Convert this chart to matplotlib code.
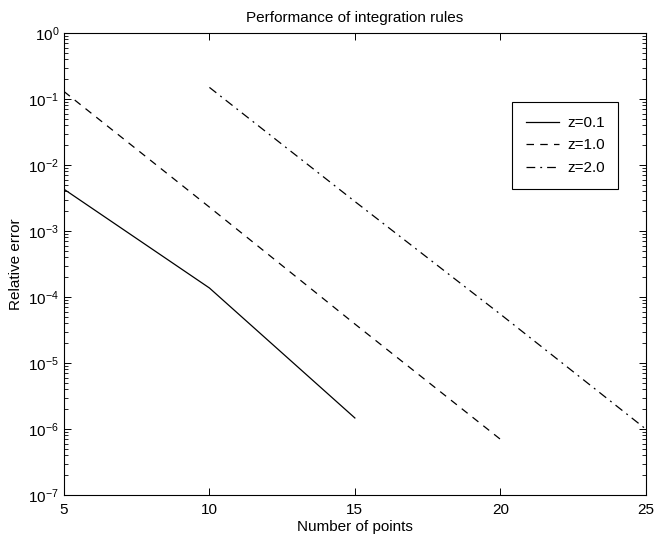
import numpy as np
import matplotlib
matplotlib.use('Agg')
import matplotlib.pyplot as plt
from matplotlib.ticker import LogLocator, NullLocator, FixedLocator

plt.rcParams['font.family'] = ['Liberation Sans', 'DejaVu Sans']
plt.rcParams['mathtext.fontset'] = 'custom'
plt.rcParams['mathtext.rm'] = 'Liberation Sans'
plt.rcParams['mathtext.it'] = 'Liberation Sans'

#=============================================================================#
# Relative error of the integration rules vs number of points
#=============================================================================#
n_01 = [5, 10, 15]
err_01 = [4.3e-3, 1.37e-4, 1.47e-6]

n_10 = [5, 10, 15, 20]
err_10 = [1.3e-1, 2.3e-3, 3.9e-5, 7.0e-7]

n_20 = [10, 15, 20, 25]
err_20 = [1.5e-1, 2.8e-3, 5.5e-5, 1.0e-6]

labels = ['z=0.1', 'z=1.0', 'z=2.0']
xticks = [5, 10, 15, 20, 25]

#=============================================================================#
fig = plt.figure(figsize=(6.63, 5.37), dpi=100)
ax = fig.add_axes([0.0965, 0.0782, 0.8775, 0.8603])

ax.semilogy(n_01, err_01, 'k-', lw=0.9, label=labels[0])
ax.semilogy(n_10, err_10, 'k--', lw=0.9, dashes=(6, 5), label=labels[1])
ax.semilogy(n_20, err_20, 'k-.', lw=0.9, dashes=(7, 4, 1.5, 4), label=labels[2])

ax.set_xlim(5, 25)
ax.set_ylim(1e-7, 1e0)
ax.xaxis.set_major_locator(FixedLocator(xticks))
ax.xaxis.set_minor_locator(NullLocator())
ax.yaxis.set_major_locator(LogLocator(base=10, numticks=10))
ax.yaxis.set_minor_locator(LogLocator(base=10, subs=np.arange(2, 10), numticks=10))

ax.tick_params(which='both', direction='in', top=True, right=True, labelsize=11)
ax.tick_params(which='major', length=5, width=0.7)
ax.tick_params(which='minor', length=3, width=0.6)
ax.tick_params(axis='x', pad=6)
for s in ax.spines.values():
    s.set_linewidth(0.8)

ax.set_title('Performance of integration rules', fontsize=11, pad=8)
ax.set_xlabel('Number of points', fontsize=11, labelpad=2)
ax.set_ylabel('Relative error', fontsize=11, labelpad=4)

leg = ax.legend(loc='upper left', bbox_to_anchor=(0.77, 0.85), fontsize=11,
                frameon=True, fancybox=False, edgecolor='black', framealpha=1,
                borderaxespad=0, handlelength=2.2, handletextpad=0.5,
                labelspacing=0.55, borderpad=0.9)
leg.get_frame().set_linewidth(0.8)

plt.savefig('out.png', dpi=100)
